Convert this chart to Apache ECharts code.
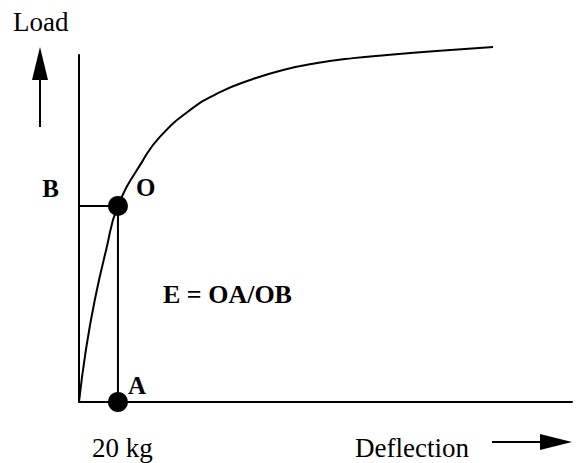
<!DOCTYPE html>
<html>
<head>
<meta charset="utf-8">
<script src="https://cdn.jsdelivr.net/npm/echarts@6/dist/echarts.min.js"></script>
<style>
  html, body { margin: 0; padding: 0; background: #fff; }
  #main { width: 576px; height: 463px; }
</style>
</head>
<body>
<div id="main"></div>
<script>
// load-deflection curve (axis units 0..100)
var deflection = [0, 1.4, 3.2, 5.5, 7.9, 13.0, 16.4, 22.5, 28.6, 34.7, 41.4, 48.3, 55.6, 62.5, 73.2, 84.0];
var load = [0, 15.0, 29.4, 43.8, 56.5, 69.7, 76.4, 84.1, 89.3, 92.8, 95.7, 97.7, 99.1, 100, 101.2, 102.3];

var pointO = [7.9, 56.5];
var pointA = [7.9, 0];
var pointB = [0, 56.5];
var pointNames = ['O', 'A', 'B'];

var yLabel = 'Load';
var xLabel = 'Deflection';
var massLabel = '20 kg';
var formula = 'E = OA/OB';

var serif = '"Liberation Serif", "Times New Roman", serif';

var curve = [];
for (var i = 0; i < deflection.length; i++) {
  curve.push([deflection[i], load[i]]);
}

var myChart = echarts.init(document.getElementById('main'), null, { renderer: 'svg' });

var option = {
  backgroundColor: '#fff',
  animation: false,
  grid: { left: 79, right: 4, top: 55, bottom: 61 },
  xAxis: {
    type: 'value', min: 0, max: 100,
    axisLine: { show: true, lineStyle: { color: '#000', width: 2 } },
    axisTick: { show: false }, axisLabel: { show: false }, splitLine: { show: false }
  },
  yAxis: {
    type: 'value', min: 0, max: 100,
    axisLine: { show: true, lineStyle: { color: '#000', width: 2 } },
    axisTick: { show: false }, axisLabel: { show: false }, splitLine: { show: false }
  },
  series: [
    {
      type: 'line',
      data: curve,
      smooth: true,
      symbol: 'none',
      clip: false,
      lineStyle: { color: '#000', width: 2 }
    },
    {
      // B -> O -> A guide lines
      type: 'line',
      data: [pointB, pointO, pointA],
      symbol: 'none',
      lineStyle: { color: '#000', width: 2 }
    },
    {
      type: 'scatter',
      data: [
        { value: pointO, label: { formatter: pointNames[0], distance: 8, offset: [0, -18] } },
        { value: pointA, label: { formatter: pointNames[1], distance: 0, offset: [0, -17] } },
        { value: pointB, symbolSize: 0, label: { formatter: pointNames[2], position: 'left', distance: 20, offset: [0, -17] } }
      ],
      symbolSize: 20,
      itemStyle: { color: '#000', opacity: 1 },
      z: 5,
      label: { show: true, position: 'right', fontFamily: serif, fontWeight: 'bold', fontSize: 25, color: '#000' }
    }
  ],
  graphic: [
    { type: 'text', x: 13, y: 22, style: { text: yLabel, font: '27px ' + serif, fill: '#000', align: 'left', verticalAlign: 'middle' } },
    { type: 'text', x: 92, y: 448, style: { text: massLabel, font: '27px ' + serif, fill: '#000', align: 'left', verticalAlign: 'middle' } },
    { type: 'text', x: 355, y: 448, style: { text: xLabel, font: '27px ' + serif, fill: '#000', align: 'left', verticalAlign: 'middle' } },
    { type: 'text', x: 163, y: 294, style: { text: formula, font: 'bold 26px ' + serif, fill: '#000', align: 'left', verticalAlign: 'middle' } },
    // up arrow next to Load
    { type: 'line', shape: { x1: 40, y1: 127, x2: 40, y2: 76 }, style: { stroke: '#000', lineWidth: 2 } },
    { type: 'polygon', shape: { points: [[40, 47], [32, 80], [48, 80]] }, style: { fill: '#000' } },
    // right arrow after Deflection
    { type: 'line', shape: { x1: 492, y1: 442, x2: 544, y2: 442 }, style: { stroke: '#000', lineWidth: 2 } },
    { type: 'polygon', shape: { points: [[572, 442], [540, 434], [540, 450]] }, style: { fill: '#000' } }
  ]
};

myChart.setOption(option);
</script>
</body>
</html>
